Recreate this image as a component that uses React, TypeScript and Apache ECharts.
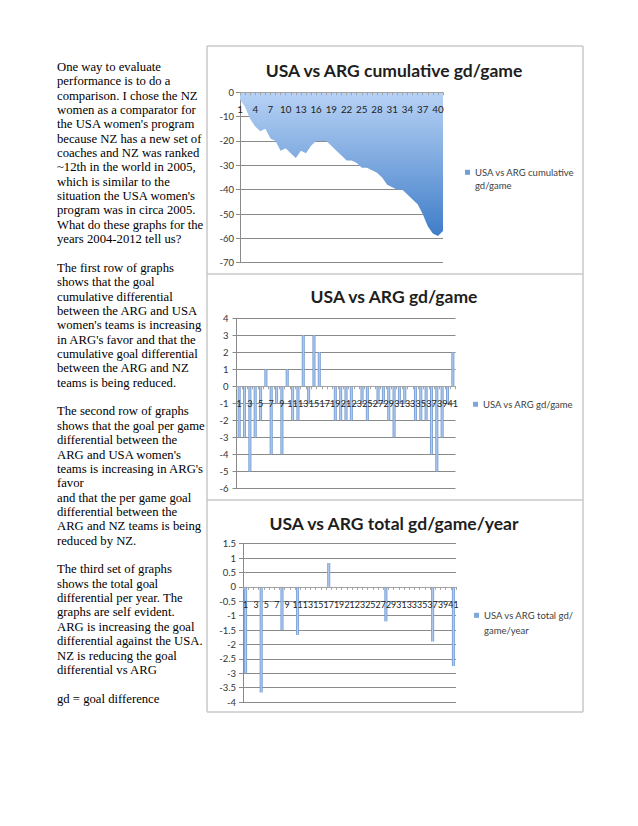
import React, { useEffect, useRef } from "react";
import * as echarts from "echarts";

// ---------- data ----------
const games = [
  "1", "2", "3", "4", "5", "6", "7", "8", "9", "10",
  "11", "12", "13", "14", "15", "16", "17", "18", "19", "20",
  "21", "22", "23", "24", "25", "26", "27", "28", "29", "30",
  "31", "32", "33", "34", "35", "36", "37", "38", "39", "40", "41",
];

const cumulativeGd = [
  -3, -6, -11, -14, -16, -15, -19, -20, -24, -23,
  -25, -27, -24, -25, -22, -20, -20, -20, -22, -24,
  -26, -28, -28, -29, -31, -31, -32, -33, -35, -38,
  -39, -40, -40, -42, -44, -46, -50, -55, -58, -59, -57,
];

const gdPerGame = [
  -3, -3, -5, -3, -2, 1, -4, -1, -4, 1,
  -2, -2, 3, -1, 3, 2, 0, 0, -2, -2,
  -2, -2, 0, -1, -2, 0, -1, -1, -2, -3,
  -1, -1, 0, -2, -2, -2, -4, -5, -3, -1, 2,
];

const totalGdPerYear = [
  -3, null, null, -3.67, null, null, null, -1.5, null, null,
  -1.67, null, null, null, null, null, 0.83, null, null, null,
  null, null, null, null, null, null, null, -1.2, null, null,
  null, null, null, null, null, null, -1.9, null, null, null, -2.75,
];

const chartTitles = [
  "USA vs ARG cumulative gd/game",
  "USA vs ARG gd/game",
  "USA vs ARG total gd/game/year",
];
const seriesNames = [
  "USA vs ARG cumulative gd/game",
  "USA vs ARG gd/game",
  "USA vs ARG total gd/game/year",
];
const legendLabels = [
  "\nUSA vs ARG cumulative\ngd/game",
  "USA vs ARG gd/game",
  "\nUSA vs ARG total gd/\ngame/year",
];

const paragraphLines = [
  "One way to evaluate",
  "performance is to do a",
  "comparison. I chose the NZ",
  "women as a comparator for",
  "the USA women's program",
  "because NZ has a new set of",
  "coaches and NZ was ranked",
  "~12th in the world in 2005,",
  "which is similar to the",
  "situation the USA women's",
  "program was in circa 2005.",
  "What do these graphs for the",
  "years 2004-2012 tell us?",
  "",
  "The first row of graphs",
  "shows that the goal",
  "cumulative differential",
  "between the ARG and USA",
  "women's teams is increasing",
  "in ARG's favor and that the",
  "cumulative goal differential",
  "between the ARG and NZ",
  "teams is being reduced.",
  "",
  "The second row of graphs",
  "shows that the goal per game",
  "differential between the",
  "ARG and USA women's",
  "teams is increasing in ARG's",
  "favor",
  "and that the per game goal",
  "differential between the",
  "ARG and NZ teams is being",
  "reduced by NZ.",
  "",
  "The third set of graphs",
  "shows the total goal",
  "differential per year. The",
  "graphs are self evident.",
  "ARG is increasing the goal",
  "differential against the USA.",
  "NZ is reducing the goal",
  "differential vs ARG",
  "",
  "gd = goal difference",
];

// ---------- styling ----------
const FONT = "Lato, 'Open Sans', sans-serif";
const GRID_COLOR = "#8a8a8a";
const FRAME_COLOR = "#c9c9c9";

function barGradient() {
  return new echarts.graphic.LinearGradient(0, 0, 1, 0, [
    { offset: 0, color: "#6792cc" },
    { offset: 0.5, color: "#b3cdef" },
    { offset: 1, color: "#6792cc" },
  ]);
}

function yAxisCfg(gridIndex: number, min: number, max: number, interval: number, margin: number) {
  return {
    type: "value",
    gridIndex,
    min,
    max,
    interval,
    axisLine: { show: true, lineStyle: { color: GRID_COLOR, width: 1 } },
    axisTick: { show: true, length: 4, lineStyle: { color: GRID_COLOR } },
    axisLabel: { fontSize: 9.5, color: "#333", margin, fontFamily: FONT },
    splitLine: { show: true, lineStyle: { color: GRID_COLOR, width: 1 } },
  };
}

// the category axis is drawn where the value axis crosses zero (offset from grid bottom),
// above the series like in the spreadsheet original
function xAxisCfg(
  gridIndex: number,
  boundaryGap: boolean,
  labelInterval: number,
  margin: number,
  offset: number,
  fontSize: number
) {
  return {
    type: "category",
    gridIndex,
    data: games,
    boundaryGap,
    position: "bottom",
    offset,
    z: 10,
    axisLine: { show: true, onZero: false, lineStyle: { color: "#a3a3a3", width: 1 } },
    axisTick: { show: true, interval: 0, length: 3, lineStyle: { color: "#a3a3a3" } },
    axisLabel: {
      interval: labelInterval,
      fontSize,
      color: "#222",
      margin,
      fontFamily: FONT,
      hideOverlap: false,
    },
    splitLine: { show: false },
  };
}

function frameLine(x1: number, y1: number, x2: number, y2: number) {
  return {
    type: "line",
    silent: true,
    shape: { x1, y1, x2, y2 },
    style: { stroke: FRAME_COLOR, lineWidth: 1.5 },
  };
}

export default function App() {
  const ref = useRef<HTMLDivElement>(null);

  useEffect(() => {
    if (!ref.current) return;
    const chart = echarts.init(ref.current, null, { renderer: "svg" });

    const titleCenters = [70, 296.7, 523];
    const option: any = {
      animation: false,
      backgroundColor: "#ffffff",
      textStyle: { fontFamily: FONT },
      title: chartTitles.map((t, i) => ({
        text: t,
        left: 394,
        top: titleCenters[i] - 10,
        padding: 0,
        textAlign: "center",
        textStyle: {
          fontFamily: FONT,
          fontWeight: "bold",
          fontSize: 17.5,
          lineHeight: 20,
          color: "#1e1e1e",
        },
      })),
      legend: [
        {
          data: [seriesNames[0]],
          left: 465,
          top: 172.3 - 13.5 * 1.5,
          icon: "rect",
          itemWidth: 5,
          itemHeight: 5,
          padding: 0,
          formatter: () => legendLabels[0],
          itemStyle: { color: "#6f9fd9" },
          textStyle: { fontSize: 9.5, color: "#404040", lineHeight: 13.5, fontFamily: FONT },
        },
        {
          data: [seriesNames[1]],
          left: 473,
          top: 404.3 - 6.5,
          icon: "rect",
          itemWidth: 5,
          itemHeight: 5,
          padding: 0,
          formatter: () => legendLabels[1],
          itemStyle: { color: "#7ea6d9" },
          textStyle: { fontSize: 9.5, color: "#404040", lineHeight: 13, fontFamily: FONT },
        },
        {
          data: [seriesNames[2]],
          left: 474,
          top: 615.3 - 15 * 1.5,
          icon: "rect",
          itemWidth: 5,
          itemHeight: 5,
          padding: 0,
          formatter: () => legendLabels[2],
          itemStyle: { color: "#7ea6d9" },
          textStyle: { fontSize: 9.5, color: "#404040", lineHeight: 15, fontFamily: FONT },
        },
      ],
      grid: [
        { left: 240, top: 92.3, width: 203, height: 170.4, containLabel: false, outerBoundsMode: "none" },
        { left: 236.5, top: 318.3, width: 219, height: 170, containLabel: false, outerBoundsMode: "none" },
        { left: 243, top: 543.7, width: 213, height: 158.3, containLabel: false, outerBoundsMode: "none" },
      ],
      xAxis: [
        xAxisCfg(0, false, 2, 12, -170.4, 9.8),
        xAxisCfg(1, true, 1, 13, -102, 9),
        xAxisCfg(2, true, 1, 13, -115.13, 8.8),
      ],
      yAxis: [
        yAxisCfg(0, -70, 0, 10, 6),
        yAxisCfg(1, -6, 4, 1, 8),
        yAxisCfg(2, -4, 1.5, 0.5, 7),
      ],
      series: [
        {
          type: "line",
          name: seriesNames[0],
          xAxisIndex: 0,
          yAxisIndex: 0,
          data: cumulativeGd,
          symbol: "none",
          smooth: false,
          itemStyle: { color: "#6f9fd9" },
          lineStyle: { width: 0, color: "#6f9fd9" },
          areaStyle: {
            opacity: 1,
            color: new echarts.graphic.LinearGradient(0, 0, 0, 1, [
              { offset: 0, color: "#b7d2f5" },
              { offset: 1, color: "#3f7dc8" },
            ]),
          },
        },
        {
          type: "bar",
          name: seriesNames[1],
          xAxisIndex: 1,
          yAxisIndex: 1,
          data: gdPerGame,
          barWidth: 3,
          itemStyle: { color: barGradient() },
        },
        {
          type: "bar",
          name: seriesNames[2],
          xAxisIndex: 2,
          yAxisIndex: 2,
          data: totalGdPerYear,
          barWidth: 3,
          itemStyle: { color: barGradient() },
        },
      ],
      graphic: [
        frameLine(207, 46, 207, 712),
        frameLine(583, 46, 583, 712),
        frameLine(207, 46, 583, 46),
        frameLine(207, 274, 583, 274),
        frameLine(207, 500, 583, 500),
        frameLine(207, 712, 583, 712),
      ],
    };

    chart.setOption(option);
    return () => chart.dispose();
  }, []);

  return (
    <div
      style={{
        position: "fixed",
        left: 0,
        top: 0,
        width: 638,
        height: 826,
        background: "#ffffff",
        overflow: "hidden",
      }}
    >
      <div ref={ref} style={{ position: "absolute", left: 0, top: 0, width: 638, height: 826 }} />
      <div
        style={{
          position: "absolute",
          left: 57,
          top: 59.8,
          fontFamily: "'Liberation Serif', 'Times New Roman', serif",
          fontSize: 12.7,
          lineHeight: "14.36px",
          color: "#000",
          whiteSpace: "pre",
        }}
      >
        {paragraphLines.map((line, i) => (
          <div key={i} style={{ height: 14.36 }}>
            {line === "" ? "\u00a0" : line}
          </div>
        ))}
      </div>
    </div>
  );
}
